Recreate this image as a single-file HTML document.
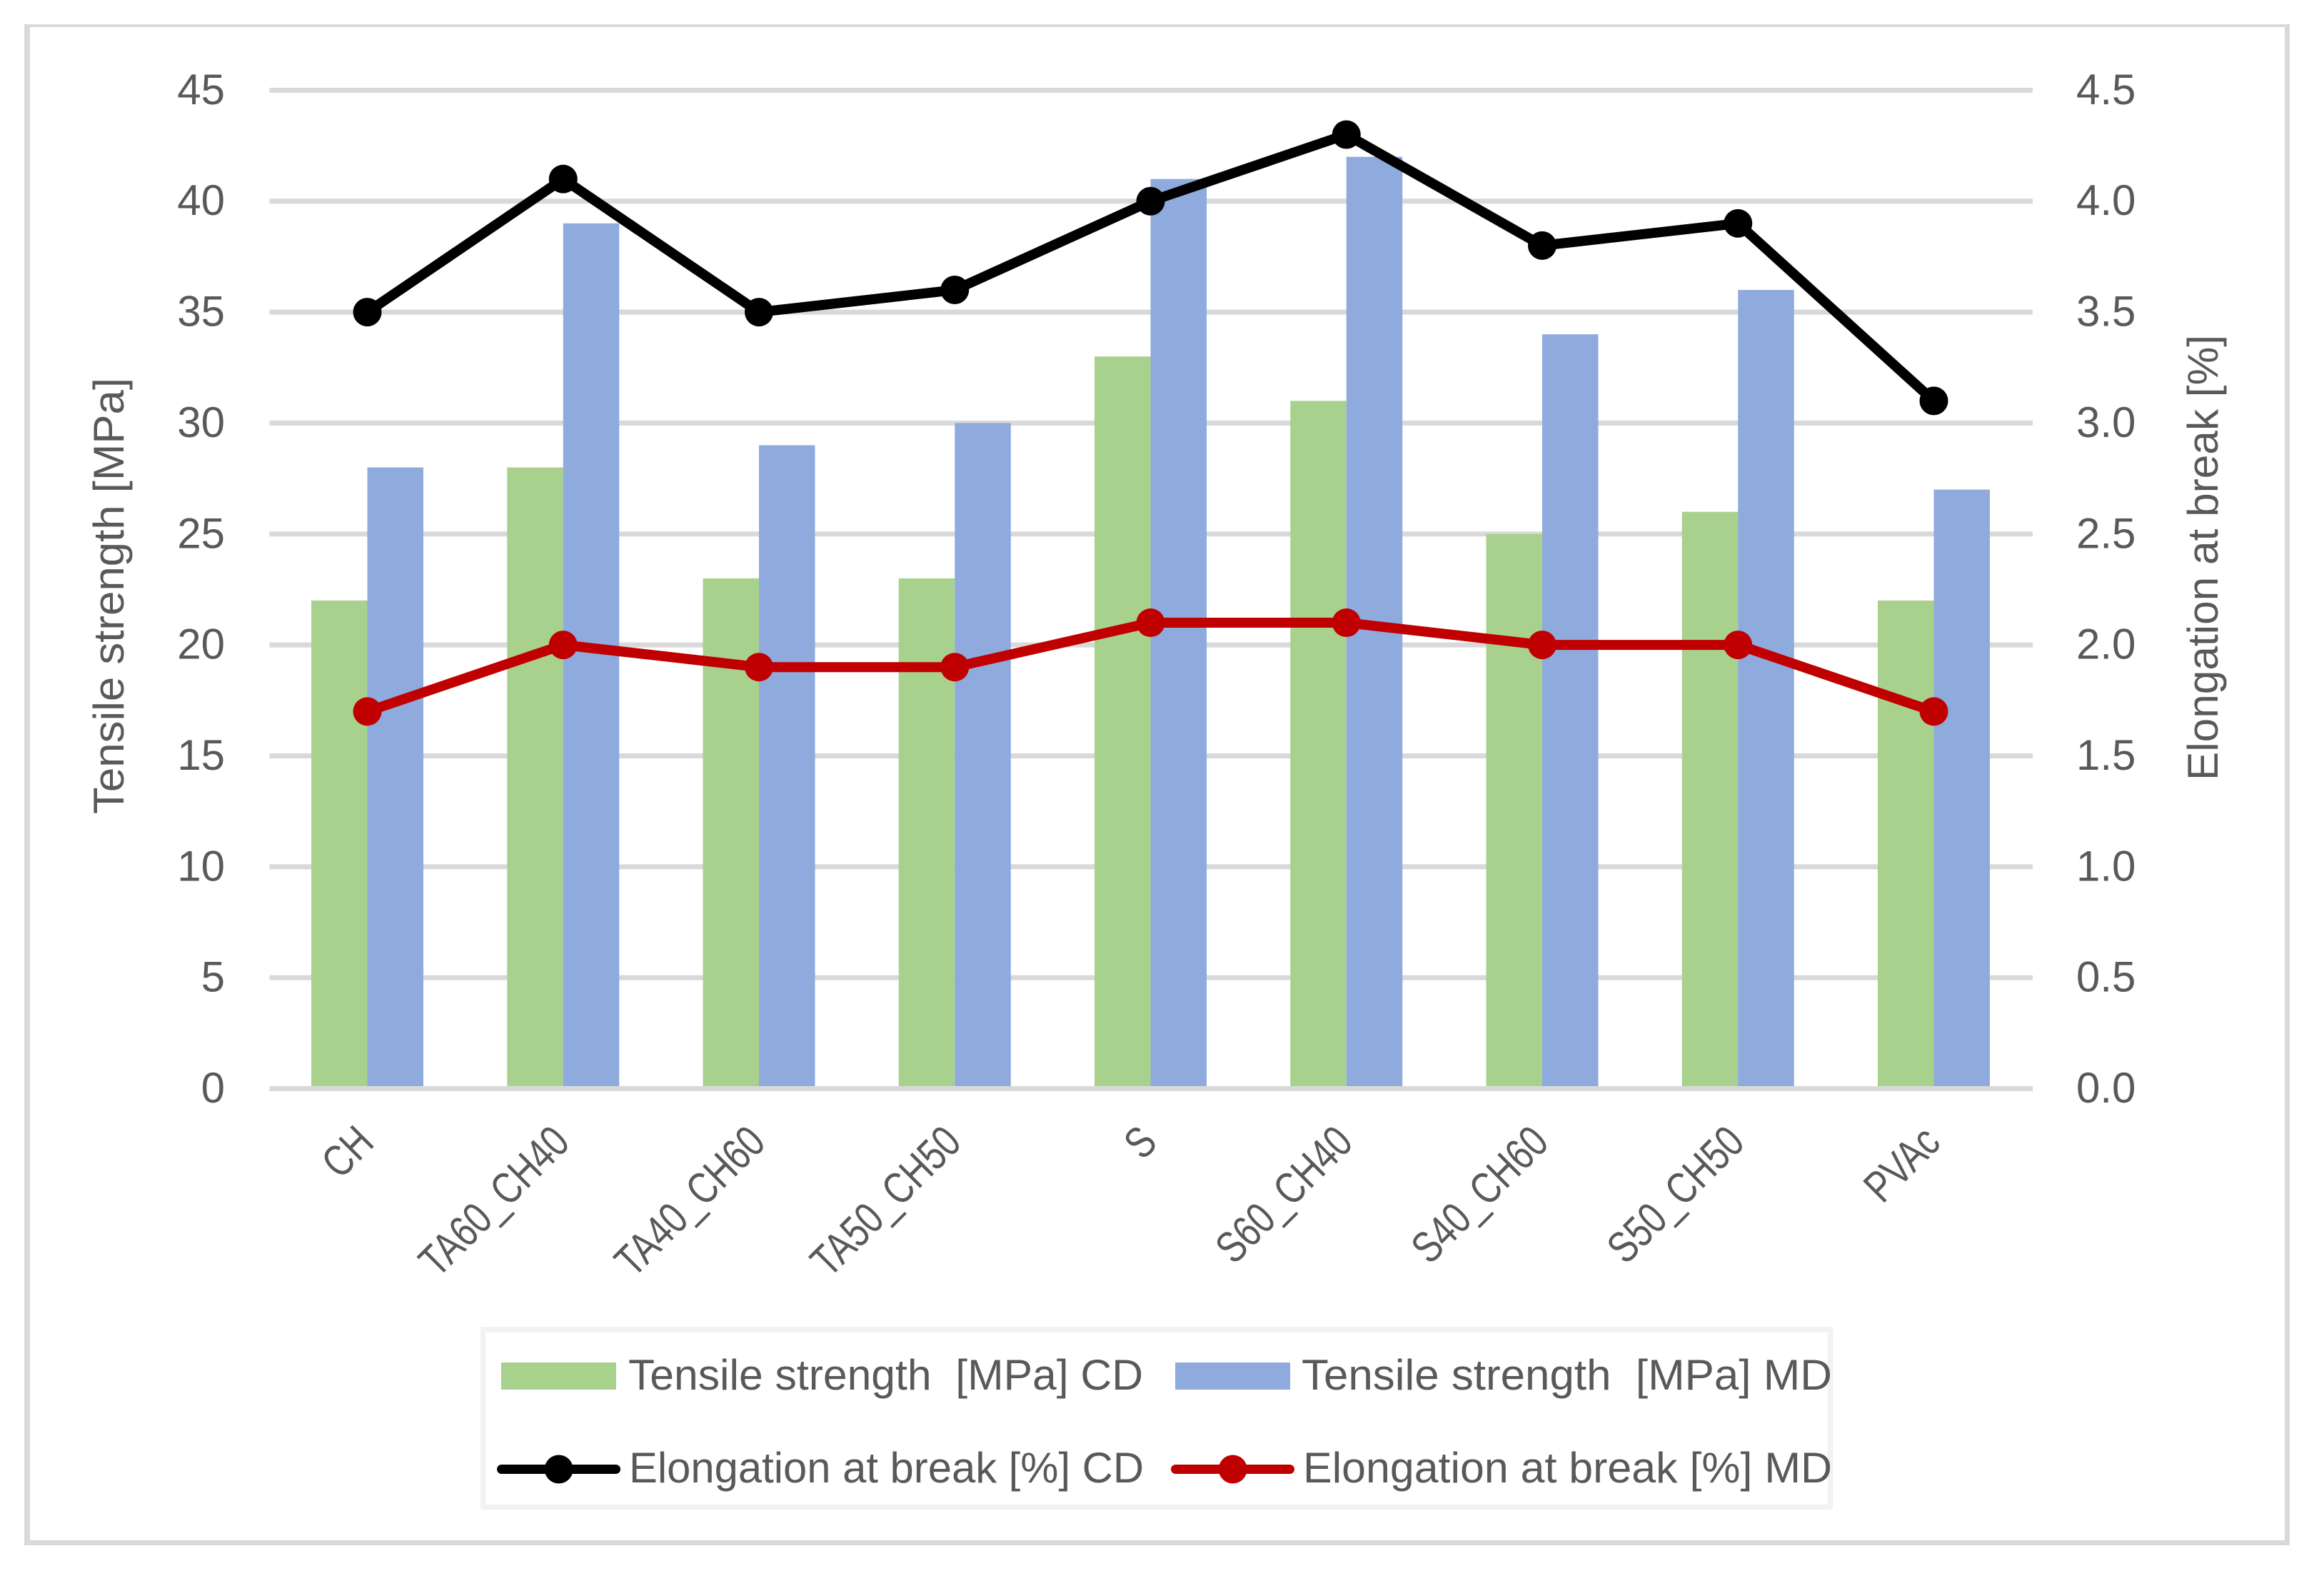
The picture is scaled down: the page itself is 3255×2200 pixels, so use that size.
<!DOCTYPE html>
<html lang="en">
<head>
<meta charset="utf-8">
<title>Tensile strength and elongation at break</title>
<style>
html,body{margin:0;padding:0;background:#fff;}
svg{display:block;}
text{font-family:"Liberation Sans",sans-serif;fill:#595959;font-size:60px;}
</style>
</head>
<body>
<svg id="chart" xmlns="http://www.w3.org/2000/svg" width="3255" height="2200" viewBox="0 0 3255 2200">
  <rect x="0" y="0" width="3255" height="2200" fill="#ffffff"/>
  <g fill="#d9d9d9">
    <rect x="34" y="34" width="8" height="2130"/>
    <rect x="3200" y="34" width="7" height="2130"/>
    <rect x="34" y="34" width="3173" height="4"/>
    <rect x="34" y="2157" width="3173" height="7"/>
  </g>
  <g id="grid"></g>
  <g id="bars"></g>
  <g id="axis"></g>
  <g id="lines"></g>
  <g id="yLeft"></g>
  <g id="yRight"></g>
  <g id="xLabels"></g>
  <text transform="translate(173,1140) rotate(-90)" textLength="611" lengthAdjust="spacingAndGlyphs">Tensile strength [MPa]</text>
  <text transform="translate(3106,1093) rotate(-90)" textLength="624" lengthAdjust="spacingAndGlyphs">Elongation at break [%]</text>
  <g>
    <rect x="673" y="1858" width="1894" height="256" rx="3" fill="#f2f2f2"/>
    <rect x="680" y="1866" width="1880" height="241" fill="#ffffff"/>
    <rect x="702" y="1908" width="161" height="38" fill="#a9d18e"/>
    <text x="880" y="1946" xml:space="preserve" textLength="721" lengthAdjust="spacingAndGlyphs">Tensile strength  [MPa] CD</text>
    <rect x="1646" y="1908" width="161" height="38" fill="#8faadc"/>
    <text x="1823" y="1946" xml:space="preserve" textLength="743" lengthAdjust="spacingAndGlyphs">Tensile strength  [MPa] MD</text>
    <g>
      <line x1="702.5" y1="2057.5" x2="862.5" y2="2057.5" stroke="#000000" stroke-width="13" stroke-linecap="round"/>
      <circle cx="782.7" cy="2057.5" r="20" fill="#000000"/>
    </g>
    <text x="881" y="2076" textLength="721" lengthAdjust="spacingAndGlyphs">Elongation at break [%] CD</text>
    <g>
      <line x1="1646.5" y1="2057.5" x2="1806.5" y2="2057.5" stroke="#c00000" stroke-width="13" stroke-linecap="round"/>
      <circle cx="1726.7" cy="2057.5" r="20" fill="#c00000"/>
    </g>
    <text x="1825" y="2076" textLength="741" lengthAdjust="spacingAndGlyphs">Elongation at break [%] MD</text>
  </g>
</svg>
<script>
var categories = ["CH","TA60_CH40","TA40_CH60","TA50_CH50","S","S60_CH40","S40_CH60","S50_CH50","PVAc"];
var tensileCD = [22,28,23,23,33,31,25,26,22];
var tensileMD = [28,39,29,30,41,42,34,36,27];
var elongationCD = [3.5,4.1,3.5,3.6,4.0,4.3,3.8,3.9,3.1];
var elongationMD = [1.7,2.0,1.9,1.9,2.1,2.1,2.0,2.0,1.7];
var leftTicks = [0,5,10,15,20,25,30,35,40,45];
var rightTicks = ["0.0","0.5","1.0","1.5","2.0","2.5","3.0","3.5","4.0","4.5"];

var NS = "http://www.w3.org/2000/svg";
var plotLeft = 377.5, plotRight = 2847, yBase = 1524.5, yTop = 126.4;
var firstCenter = 514.5, catStep = 274.25, barW = 78.5;

function xCat(i){ return firstCenter + i * catStep; }
function yLeftScale(v){ return yBase - (v / 45) * (yBase - yTop); }
function yRightScale(v){ return yBase - (v / 4.5) * (yBase - yTop); }
function make(tag, parent, attrs){
  var el = document.createElementNS(NS, tag);
  for (var k in attrs) el.setAttribute(k, attrs[k]);
  parent.appendChild(el);
  return el;
}

var grid = document.getElementById("grid");
leftTicks.forEach(function(t){
  if (t === 0) return;
  var g = make("rect", grid, {x: plotLeft, y: yLeftScale(t) - 3.5, width: plotRight - plotLeft, height: 7, fill: "#d9d9d9"});
  
  
});

var bars = document.getElementById("bars");
categories.forEach(function(c, i){
  var h1 = make("rect", bars, {x: xCat(i) - barW, y: yLeftScale(tensileCD[i]), width: barW, height: yBase - yLeftScale(tensileCD[i]), fill: "#a9d18e"});
  
  
  var h2 = make("rect", bars, {x: xCat(i), y: yLeftScale(tensileMD[i]), width: barW, height: yBase - yLeftScale(tensileMD[i]), fill: "#8faadc"});
  
  
});

var axis = document.getElementById("axis");
var axisLine = make("rect", axis, {x: plotLeft, y: 1521, width: plotRight - plotLeft, height: 7, fill: "#d9d9d9"});



function drawLine(values, color){
  var parent = document.getElementById("lines");
  var pts = values.map(function(v, i){ return xCat(i) + "," + yRightScale(v); }).join(" ");
  var pl = make("polyline", parent, {points: pts, fill: "none", stroke: color, "stroke-width": 14, "stroke-linejoin": "round"});
  
  
  values.forEach(function(v, i){
    var c = make("circle", parent, {cx: xCat(i), cy: yRightScale(v), r: 20, fill: color});
    
    
  });
}
drawLine(elongationCD, "#000000");
drawLine(elongationMD, "#c00000");

var yLeft = document.getElementById("yLeft");
leftTicks.forEach(function(t){
  var el = make("text", yLeft, {x: 315, y: yLeftScale(t) + 19.5, "text-anchor": "end"});
  el.textContent = String(t);
  
  
});

var yRight = document.getElementById("yRight");
rightTicks.forEach(function(t){
  var el = make("text", yRight, {x: 2908, y: yRightScale(parseFloat(t)) + 19.5});
  el.textContent = t;
  
  
});

var xLabels = document.getElementById("xLabels");
categories.forEach(function(c, i){
  var el = make("text", xLabels, {"text-anchor": "end", style: "font-size:62px", transform: "translate(" + (xCat(i) + 12) + ",1603) rotate(-45) scale(0.79,1)"});
  el.textContent = c;
  
  
});
</script>
</body>
</html>
